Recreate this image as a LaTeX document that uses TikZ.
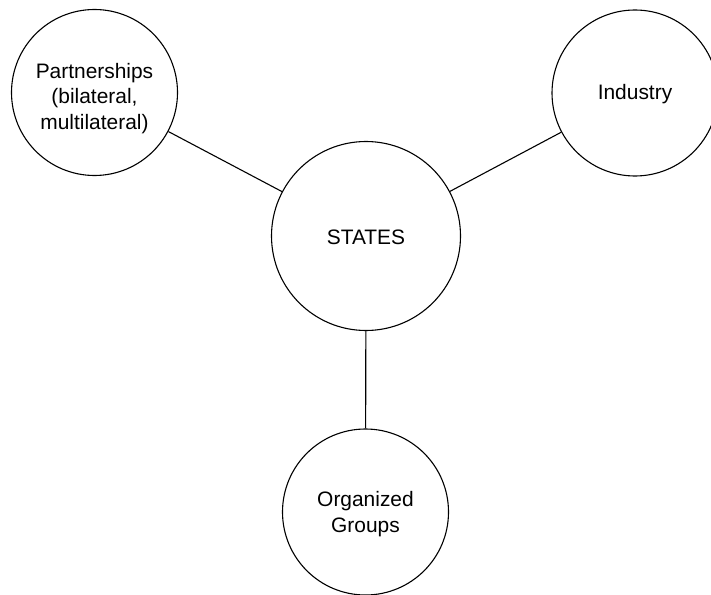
\documentclass[tikz,border=0pt]{standalone}
\usepackage{fontspec}
\setmainfont{Liberation Sans}
\begin{document}
\begin{tikzpicture}[x=1bp,y=-1bp,
  bubble/.style={circle,draw=black,line width=1.1bp,fill=white,inner sep=0pt},
  btext/.style={inner sep=0pt,align=center,font=\fontsize{21}{26}\selectfont},
  link/.style={draw=black,line width=1.1bp}]
\useasboundingbox (0,0) rectangle (711,595);
\clip (0,0) rectangle (711,595);
\node[bubble,minimum size=189bp,label={[btext,yshift=-1bp]center:STATES}] (states) at (366,236) {};
\node[bubble,minimum size=166bp,label={[btext,yshift=-6bp]center:Partnerships\\(bilateral,\\multilateral)}] (part) at (94.5,92.5) {};
\node[bubble,minimum size=166bp,label={[btext,yshift=-1bp]center:Industry}] (ind) at (635,93) {};
\node[bubble,minimum size=166bp,label={[btext,yshift=-2bp]center:Organized\\Groups}] (org) at (365.5,512) {};
\draw[link] (part) -- (states);
\draw[link] (states) -- (ind);
\draw[link] (states) -- (org);
\end{tikzpicture}
\end{document}
